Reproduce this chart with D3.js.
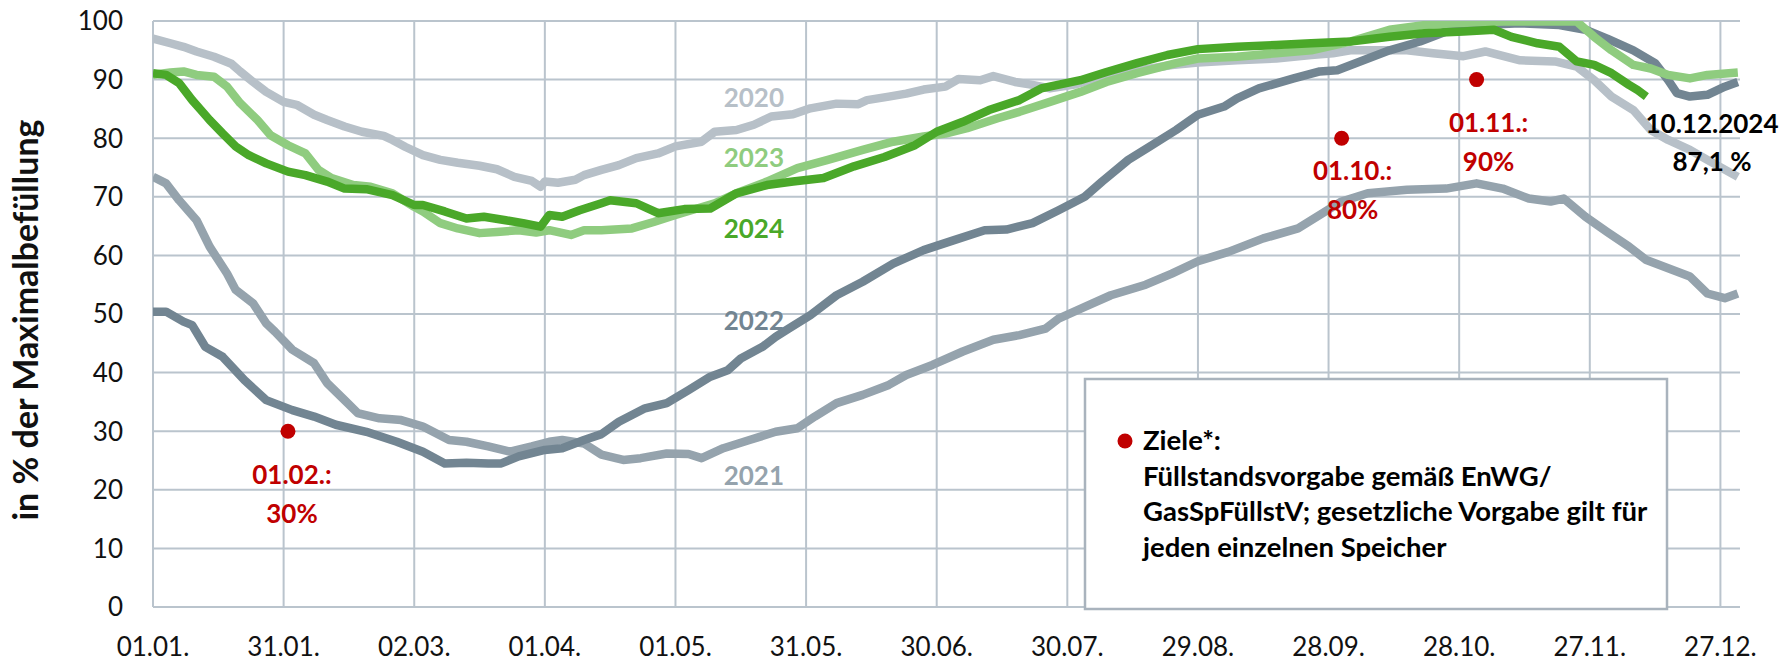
<!DOCTYPE html>
<html>
<head>
<meta charset="utf-8">
<script src="https://cdn.jsdelivr.net/npm/d3@7"></script>
<style>
  html, body { margin: 0; padding: 0; background: #fff; }
  svg { display: block; font-family: Lato, "Open Sans", sans-serif; }
</style>
</head>
<body>
<div id="chart"></div>
<script>
// day of year (0 = 01.01.) and fill level in %
const fill2020 = [[0,97.0],[4,96.2],[7,95.6],[10,94.8],[14,93.9],[18,92.7],[20,91.4],[23,89.6],[26,87.9],[30,86.2],[33,85.7],[37,84.0],[40,83.1],[44,82.0],[48,81.1],[53,80.4],[55,79.7],[58,78.5],[62,77.1],[66,76.3],[70,75.8],[75,75.3],[79,74.7],[83,73.4],[87,72.7],[89,71.7],[90,72.6],[93,72.4],[97,72.9],[99,73.7],[103,74.6],[107,75.4],[111,76.6],[116,77.4],[120,78.6],[126,79.4],[129,81.1],[134,81.4],[138,82.3],[142,83.7],[147,84.1],[151,85.1],[157,85.9],[162,85.8],[164,86.5],[169,87.1],[173,87.6],[177,88.3],[182,88.8],[185,90.1],[190,89.9],[193,90.6],[198,89.6],[202,89.1],[206,88.5],[212,89.2],[218,90.5],[225,91.4],[234,92.5],[240,92.9],[249,93.3],[258,93.6],[266,94.2],[271,94.5],[275,95.0],[288,95.0],[294,94.5],[301,94.0],[306,94.8],[314,93.3],[322,93.1],[327,92.2],[331,89.9],[335,87.1],[340,84.8],[344,81.4],[348,79.7],[353,78.0],[357,76.3],[364,73.4]];
const fill2021 = [[0,73.4],[3,72.3],[6,69.4],[10,66.0],[13,61.5],[17,56.9],[19,54.1],[23,51.8],[26,48.4],[28,47.0],[32,43.9],[37,41.6],[40,38.2],[44,35.3],[47,33.1],[52,32.2],[57,31.9],[62,30.8],[68,28.5],[72,28.2],[77,27.4],[82,26.5],[87,27.4],[91,28.2],[94,28.5],[99,27.9],[103,26.0],[108,25.1],[112,25.4],[118,26.2],[123,26.1],[126,25.4],[131,27.1],[137,28.5],[143,29.9],[148,30.5],[152,32.5],[157,34.8],[163,36.2],[169,37.9],[173,39.6],[179,41.3],[186,43.6],[193,45.6],[199,46.4],[205,47.5],[208,49.2],[214,51.2],[220,53.2],[228,55.0],[234,56.9],[240,59.0],[247,60.6],[255,62.9],[263,64.6],[268,66.9],[273,69.2],[279,70.6],[288,71.2],[297,71.4],[304,72.3],[310,71.4],[316,69.7],[321,69.2],[324,69.7],[329,66.6],[334,64.0],[339,61.5],[343,59.2],[348,57.8],[353,56.4],[357,53.5],[361,52.7],[364,53.5]];
const fill2022 = [[0,50.4],[3,50.4],[7,48.7],[9,48.1],[12,44.4],[16,42.7],[21,38.7],[26,35.3],[32,33.6],[37,32.5],[42,31.1],[49,29.9],[56,28.2],[62,26.5],[67,24.5],[72,24.6],[77,24.5],[80,24.5],[84,25.7],[90,26.8],[94,27.1],[99,28.5],[103,29.5],[107,31.6],[113,33.9],[118,34.8],[123,37.0],[128,39.3],[132,40.4],[135,42.4],[140,44.4],[143,46.1],[146,47.5],[151,49.8],[157,53.2],[163,55.5],[170,58.6],[177,60.9],[184,62.6],[191,64.3],[196,64.4],[202,65.5],[208,67.7],[214,70.0],[218,72.6],[224,76.3],[229,78.6],[235,81.4],[240,84.0],[246,85.4],[249,86.8],[254,88.5],[262,90.2],[268,91.4],[272,91.6],[278,93.3],[284,95.0],[291,96.5],[297,98.2],[305,99.3],[314,99.6],[323,99.3],[329,98.5],[334,97.0],[340,95.0],[345,92.8],[348,89.9],[350,87.7],[353,87.1],[357,87.4],[361,88.8],[364,89.6]];
const fill2023 = [[0,90.8],[4,91.2],[7,91.4],[10,90.8],[14,90.5],[17,88.8],[20,86.0],[24,83.1],[27,80.5],[31,78.8],[35,77.4],[38,74.6],[41,73.2],[46,72.0],[50,71.7],[55,70.6],[60,68.3],[62,67.5],[66,65.5],[70,64.6],[75,63.8],[79,64.0],[84,64.3],[88,63.9],[91,64.3],[96,63.5],[99,64.3],[103,64.3],[110,64.6],[115,65.7],[120,66.9],[129,68.9],[134,70.6],[141,72.6],[148,74.9],[155,76.3],[163,78.0],[170,79.4],[177,80.3],[182,80.8],[187,81.7],[194,83.4],[199,84.5],[206,86.2],[213,87.9],[219,89.6],[226,91.1],[235,92.8],[240,93.6],[249,93.9],[258,94.5],[266,95.0],[275,96.5],[284,98.5],[292,99.3],[301,99.7],[310,99.9],[318,99.9],[327,99.9],[331,97.3],[335,95.0],[340,92.5],[344,91.9],[348,90.8],[353,90.2],[357,90.8],[364,91.2]];
const fill2024 = [[0,91.1],[3,90.8],[6,89.4],[9,86.5],[11,84.8],[13,83.1],[16,80.8],[19,78.6],[22,77.1],[26,75.7],[31,74.3],[35,73.7],[40,72.6],[44,71.4],[49,71.3],[55,70.3],[60,68.6],[62,68.6],[67,67.5],[72,66.3],[76,66.6],[81,66.0],[85,65.5],[89,64.9],[91,66.9],[94,66.6],[98,67.7],[103,68.9],[105,69.4],[111,68.9],[116,67.2],[122,67.9],[128,68.0],[134,70.6],[141,72.0],[147,72.6],[154,73.2],[161,75.2],[168,76.8],[175,78.8],[180,81.1],[186,82.8],[192,84.8],[199,86.5],[204,88.5],[213,89.9],[219,91.3],[226,92.8],[233,94.2],[240,95.2],[249,95.6],[258,95.9],[266,96.2],[275,96.5],[284,97.3],[292,97.9],[301,98.2],[308,98.5],[312,97.3],[318,96.2],[323,95.6],[327,93.1],[331,92.5],[335,91.1],[339,89.1],[341,88.2],[343,87.1]];

const seriesNames = ["2020", "2021", "2022", "2023", "2024"];
const seriesColors = ["#b7c0c8", "#95a3ad", "#728592", "#8fcc7f", "#4aa829"];

const xTickDays = [0, 30, 60, 90, 120, 150, 180, 210, 240, 270, 300, 330, 360];
const xTickLabels = ["01.01.", "31.01.", "02.03.", "01.04.", "01.05.", "31.05.", "30.06.", "30.07.", "29.08.", "28.09.", "28.10.", "27.11.", "27.12."];
const yTicks = [0, 10, 20, 30, 40, 50, 60, 70, 80, 90, 100];

const targetDays = [31, 273, 304];
const targetValues = [30, 80, 90];
const targetLabels = ["01.02.:", "01.10.:", "01.11.:"];

const legendLines = ["Ziele*:", "Füllstandsvorgabe gemäß EnWG/", "GasSpFüllstV; gesetzliche Vorgabe gilt für", "jeden einzelnen Speicher"];

const width = 1789, height = 662;
const margin = {left: 153, right: 49, top: 21, bottom: 55};

const svg = d3.select("#chart").append("svg")
  .attr("width", width)
  .attr("height", height);

const x = d3.scaleLinear().domain([0, 364.5]).range([margin.left, width - margin.right]);
const y = d3.scaleLinear().domain([0, 100]).range([height - margin.bottom, margin.top]);

const gridColor = "#bac4cd";

// grid
svg.append("g")
  .selectAll("line")
  .data(yTicks)
  .join("line")
  .attr("x1", x(0)).attr("x2", x.range()[1])
  .attr("y1", d => y(d)).attr("y2", d => y(d))
  .style("stroke", gridColor)
  .style("stroke-width", 2);

svg.append("g")
  .selectAll("line")
  .data(xTickDays)
  .join("line")
  .attr("x1", d => x(d)).attr("x2", d => x(d))
  .attr("y1", y(0)).attr("y2", y(100))
  .style("stroke", gridColor)
  .style("stroke-width", 2);

// y labels
svg.append("g")
  .selectAll("text")
  .data(yTicks)
  .join("text")
  .attr("x", 123)
  .attr("y", d => y(d))
  .attr("dy", "0.36em")
  .style("text-anchor", "end")
  .style("font-size", "26px")
  .style("fill", "#111")
  .text(d => d);

// x labels
svg.append("g")
  .selectAll("text")
  .data(xTickDays)
  .join("text")
  .attr("x", d => x(d))
  .attr("y", 656)
  .style("text-anchor", "middle")
  .style("font-size", "26px")
  .style("fill", "#111")
  .text((d, i) => xTickLabels[i]);

// axis title
svg.append("text")
  .attr("transform", "translate(38, 320) rotate(-90)")
  .style("text-anchor", "middle")
  .style("font-size", "34px")
  .style("font-weight", "bold")
  .style("fill", "#111")
  .text("in % der Maximalbefüllung");

// lines
svg.append("clipPath").attr("id", "plotclip")
  .append("rect")
  .attr("x", x(0)).attr("y", y(100))
  .attr("width", x.range()[1] - x(0))
  .attr("height", y(0) - y(100));

const line = d3.line().x(d => x(d[0])).y(d => y(d[1]));
const allSeries = [fill2020, fill2021, fill2022, fill2023, fill2024];

svg.append("g")
  .attr("clip-path", "url(#plotclip)")
  .selectAll("path")
  .data(allSeries)
  .join("path")
  .attr("d", line)
  .style("fill", "none")
  .style("stroke", (d, i) => seriesColors[i])
  .style("stroke-width", 8.5)
  .style("stroke-linejoin", "round");

// series labels
const labelAnchors = [[138, 85.3], [138, 20.8], [138, 47.3], [138, 75.1], [138, 63.0]];
svg.append("g")
  .selectAll("text")
  .data(seriesNames)
  .join("text")
  .attr("x", (d, i) => x(labelAnchors[i][0]))
  .attr("y", (d, i) => y(labelAnchors[i][1]))
  .style("text-anchor", "middle")
  .style("font-size", "26px")
  .style("font-weight", "bold")
  .style("fill", (d, i) => seriesColors[i])
  .text(d => d);

// targets
const red = "#c00000";
svg.append("g")
  .selectAll("circle")
  .data(targetDays)
  .join("circle")
  .attr("cx", d => x(d))
  .attr("cy", (d, i) => y(targetValues[i]))
  .attr("r", 7.5)
  .style("fill", red);

const labelDx = [4, 11, 12];
const labelDy = [53, 42, 52];
const tg = svg.append("g")
  .selectAll("text")
  .data(targetDays)
  .join("text")
  .attr("x", (d, i) => x(d) + labelDx[i])
  .attr("y", (d, i) => y(targetValues[i]) + labelDy[i])
  .style("text-anchor", "middle")
  .style("font-size", "26px")
  .style("font-weight", "bold")
  .style("fill", red);
tg.append("tspan").text((d, i) => targetLabels[i]);
tg.append("tspan")
  .attr("x", (d, i) => x(d) + labelDx[i])
  .attr("dy", 39)
  .text((d, i) => targetValues[i] + "%");

// latest value
const last = fill2024[fill2024.length - 1];
const lastText = svg.append("text")
  .attr("x", 1712)
  .attr("y", 133)
  .style("text-anchor", "middle")
  .style("font-size", "26px")
  .style("font-weight", "bold")
  .style("fill", "#000");
lastText.append("tspan").text("10.12.2024");
lastText.append("tspan").attr("x", 1712).attr("dy", 38)
  .text(String(last[1]).replace(".", ",") + " %");

// note box
const box = svg.append("g");
box.append("rect")
  .attr("x", 1085).attr("y", 379)
  .attr("width", 582).attr("height", 230)
  .style("fill", "#fff")
  .style("stroke", "#a9b3bd")
  .style("stroke-width", 2.5);
box.append("circle")
  .attr("cx", 1125).attr("cy", 441).attr("r", 7.5)
  .style("fill", red);
box.selectAll("text.note")
  .data(legendLines)
  .join("text")
  .attr("class", "note")
  .attr("x", 1143)
  .attr("y", (d, i) => 450 + i * 35.5)
  .style("font-size", "27.5px")
  .style("font-weight", "bold")
  .style("fill", "#000")
  .text(d => d);
</script>
</body>
</html>
